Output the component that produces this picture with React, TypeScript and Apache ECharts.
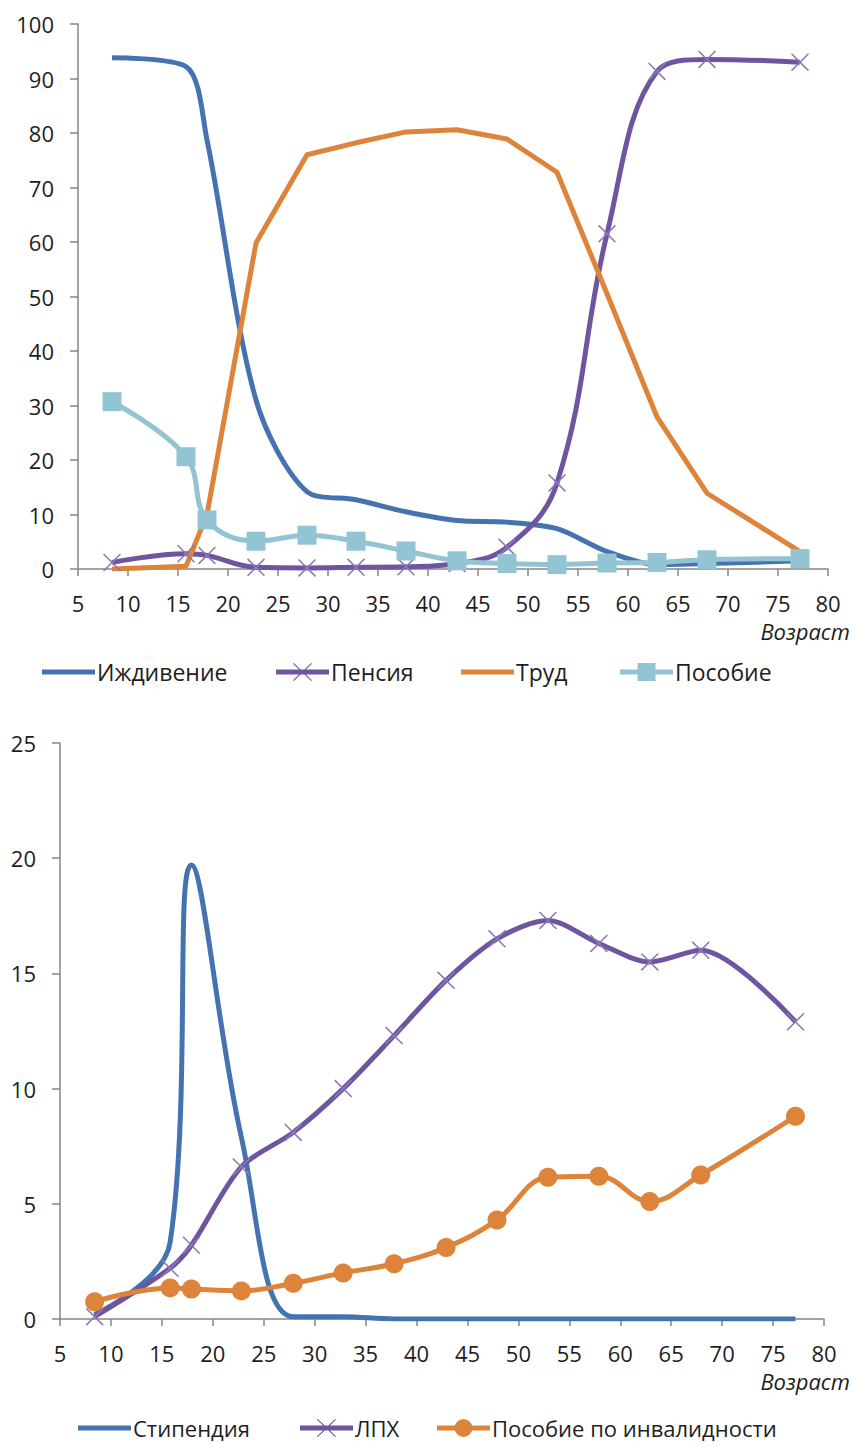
import React, { useEffect, useRef } from 'react';
import * as echarts from 'echarts';

// Ages (x values) shared by both charts
const ages = [8.4, 15.8, 17.9, 22.8, 27.9, 32.8, 37.8, 42.9, 47.9, 52.9, 57.9, 62.9, 67.9, 77.2];

// Top chart series
const izhdivenie = [93.8, 92.2, 78.7, 31, 14.2, 12.7, 10.5, 8.9, 8.6, 7.4, 3.2, 0.8, 1.0, 1.5];
const pensiya = [1.2, 2.8, 2.5, 0.3, 0.2, 0.3, 0.4, 1.0, 4.0, 15.8, 61.5, 91.3, 93.5, 93.0];
const trud = [0, 0.5, 10, 59.8, 76, 78.2, 80.2, 80.6, 78.9, 72.8, 50.5, 27.9, 13.9, 3.2];
const posobie = [30.7, 20.6, 9.0, 5.1, 6.2, 5.1, 3.3, 1.5, 1.0, 0.8, 1.1, 1.2, 1.7, 1.9];

// Bottom chart series
const stipendiya = [0.2, 3.3, 19.7, 7.9, 0.1, 0.1, 0, 0, 0, 0, 0, 0, 0, 0];
const lph = [0.1, 2.2, 3.2, 6.6, 8.1, 10.0, 12.3, 14.7, 16.5, 17.3, 16.3, 15.5, 16.0, 12.9];
const invalid = [0.75, 1.35, 1.3, 1.22, 1.55, 2.0, 2.4, 3.1, 4.3, 6.15, 6.2, 5.1, 6.25, 8.8];

const topNames = ['Иждивение', 'Пенсия', 'Труд', 'Пособие'];
const bottomNames = ['Стипендия', 'ЛПХ', 'Пособие по инвалидности'];
const xAxisTitle = 'Возраст';

const FONT = "'Open Sans', 'Noto Sans', sans-serif";
const BLUE = '#4473b0';
const PURPLE = '#6f55a0';
const PURPLE_MARK = '#8c78b8';
const ORANGE = '#dd833a';
const LIGHTBLUE = '#92c4d4';
const AXIS = '#868686';
const TEXT = '#1e1e1e';

const X_PATH = 'path://M0,0.6L0.6,0L10,9.4L9.4,10Z M9.4,0L10,0.6L0.6,10L0,9.4Z';

// Legend icons (53 x 18 box, or 53 x 5 for plain line)
const ICON_LINE = 'path://M0,0H53V5H0Z';
const ICON_X = 'path://M0,6.5H53V11.5H0Z M17,0.8L17.8,0L36,17.2L35.2,18Z M35.2,0L36,0.8L17.8,18L17,17.2Z';
const ICON_SQUARE = 'path://M0,6.5H53V11.5H0Z M17.5,0H35.5V18H17.5Z';
const ICON_CIRCLE = 'path://M0,6.5H53V11.5H0Z M17.5,9A9,9,0,1,1,35.5,9A9,9,0,1,1,17.5,9Z';

const pts = (vals: number[]) => ages.map((a, i) => [a, vals[i]]);

function xAxis(gridIndex: number) {
  return {
    type: 'value', gridIndex, min: 5, max: 80, interval: 5,
    axisLine: { show: true, lineStyle: { color: AXIS, width: 1.5 } },
    axisTick: { show: true, length: 7, lineStyle: { color: AXIS, width: 1.5 } },
    axisLabel: { margin: 24, fontSize: 22, lineHeight: 20, color: TEXT, fontFamily: FONT },
    splitLine: { show: false },
  };
}
function yAxis(gridIndex: number, max: number, interval: number) {
  return {
    type: 'value', gridIndex, min: 0, max, interval,
    axisLine: { show: true, lineStyle: { color: AXIS, width: 1.5 } },
    axisTick: { show: true, length: 8, lineStyle: { color: AXIS, width: 1.5 } },
    axisLabel: { margin: 24, fontSize: 22, color: TEXT, fontFamily: FONT },
    splitLine: { show: false },
  };
}

function legendItem(name: string, icon: string, color: string, left: number, top: number, fontSize: number) {
  const plain = icon === ICON_LINE;
  return {
    data: [{ name, icon, itemStyle: { color, borderWidth: 0 } }],
    left, top, padding: 0, itemWidth: 53, itemHeight: plain ? 5 : 18, itemGap: 0,
    itemStyle: { borderWidth: 0 },
    textStyle: { fontSize, lineHeight: 24, color: TEXT, fontFamily: FONT, padding: [0, 0, 0, -3] },
    selectedMode: false,
  };
}

export default function App() {
  const ref = useRef<HTMLDivElement>(null);
  useEffect(() => {
    const chart = echarts.init(ref.current!, null, { renderer: 'svg' });
    const option = {
      animation: false,
      backgroundColor: '#ffffff',
      grid: [
        { left: 78, top: 24, width: 750, height: 545 },
        { left: 60, top: 743, width: 764, height: 576 },
      ],
      xAxis: [xAxis(0), xAxis(1)],
      yAxis: [yAxis(0, 100, 10), yAxis(1, 25, 5)],
      legend: [
        legendItem(topNames[0], ICON_LINE, BLUE, 42, 660, 23),
        legendItem(topNames[1], ICON_X, PURPLE, 276, 660, 23),
        legendItem(topNames[2], ICON_LINE, ORANGE, 461, 660, 23),
        legendItem(topNames[3], ICON_SQUARE, LIGHTBLUE, 620, 660, 23),
        legendItem(bottomNames[0], ICON_LINE, BLUE, 78, 1416, 22),
        legendItem(bottomNames[1], ICON_X, PURPLE, 300, 1416, 22),
        legendItem(bottomNames[2], ICON_CIRCLE, ORANGE, 437, 1416, 22),
      ],
      graphic: [
        { type: 'text', right: 4, top: 620, style: { text: xAxisTitle, fontSize: 22, lineHeight: 20, fontStyle: 'italic', fill: TEXT, fontFamily: FONT } },
        { type: 'text', right: 4, top: 1370, style: { text: xAxisTitle, fontSize: 22, lineHeight: 20, fontStyle: 'italic', fill: TEXT, fontFamily: FONT } },
      ],
      series: [
        {
          name: topNames[0], type: 'line', xAxisIndex: 0, yAxisIndex: 0, data: pts(izhdivenie),
          smooth: 0.3, symbol: 'none', color: BLUE, lineStyle: { width: 5, color: BLUE },
        },
        {
          name: topNames[1], type: 'line', xAxisIndex: 0, yAxisIndex: 0, data: pts(pensiya),
          smooth: 0.4, symbol: X_PATH, symbolSize: 18, color: PURPLE,
          lineStyle: { width: 5, color: PURPLE }, itemStyle: { color: PURPLE_MARK },
        },
        {
          name: topNames[2], type: 'line', xAxisIndex: 0, yAxisIndex: 0, data: pts(trud),
          smooth: false, symbol: 'none', color: ORANGE, lineStyle: { width: 5, color: ORANGE },
        },
        {
          name: topNames[3], type: 'line', xAxisIndex: 0, yAxisIndex: 0, data: pts(posobie),
          smooth: 0.4, symbol: 'rect', symbolSize: 19, color: LIGHTBLUE,
          lineStyle: { width: 5, color: LIGHTBLUE }, itemStyle: { color: LIGHTBLUE },
        },
        {
          name: bottomNames[0], type: 'line', xAxisIndex: 1, yAxisIndex: 1, data: pts(stipendiya),
          smooth: 0.4, symbol: 'none', color: BLUE, lineStyle: { width: 5, color: BLUE },
        },
        {
          name: bottomNames[1], type: 'line', xAxisIndex: 1, yAxisIndex: 1, data: pts(lph),
          smooth: 0.3, symbol: X_PATH, symbolSize: 18, color: PURPLE,
          lineStyle: { width: 5, color: PURPLE }, itemStyle: { color: PURPLE_MARK },
        },
        {
          name: bottomNames[2], type: 'line', xAxisIndex: 1, yAxisIndex: 1, data: pts(invalid),
          smooth: 0.4, symbol: 'circle', symbolSize: 19, color: ORANGE,
          lineStyle: { width: 5, color: ORANGE }, itemStyle: { color: ORANGE },
        },
      ],
    };
    chart.setOption(option as any);
    return () => chart.dispose();
  }, []);
  return <div ref={ref} style={{ position: 'absolute', left: 0, top: 0, width: 854, height: 1446 }} />;
}
